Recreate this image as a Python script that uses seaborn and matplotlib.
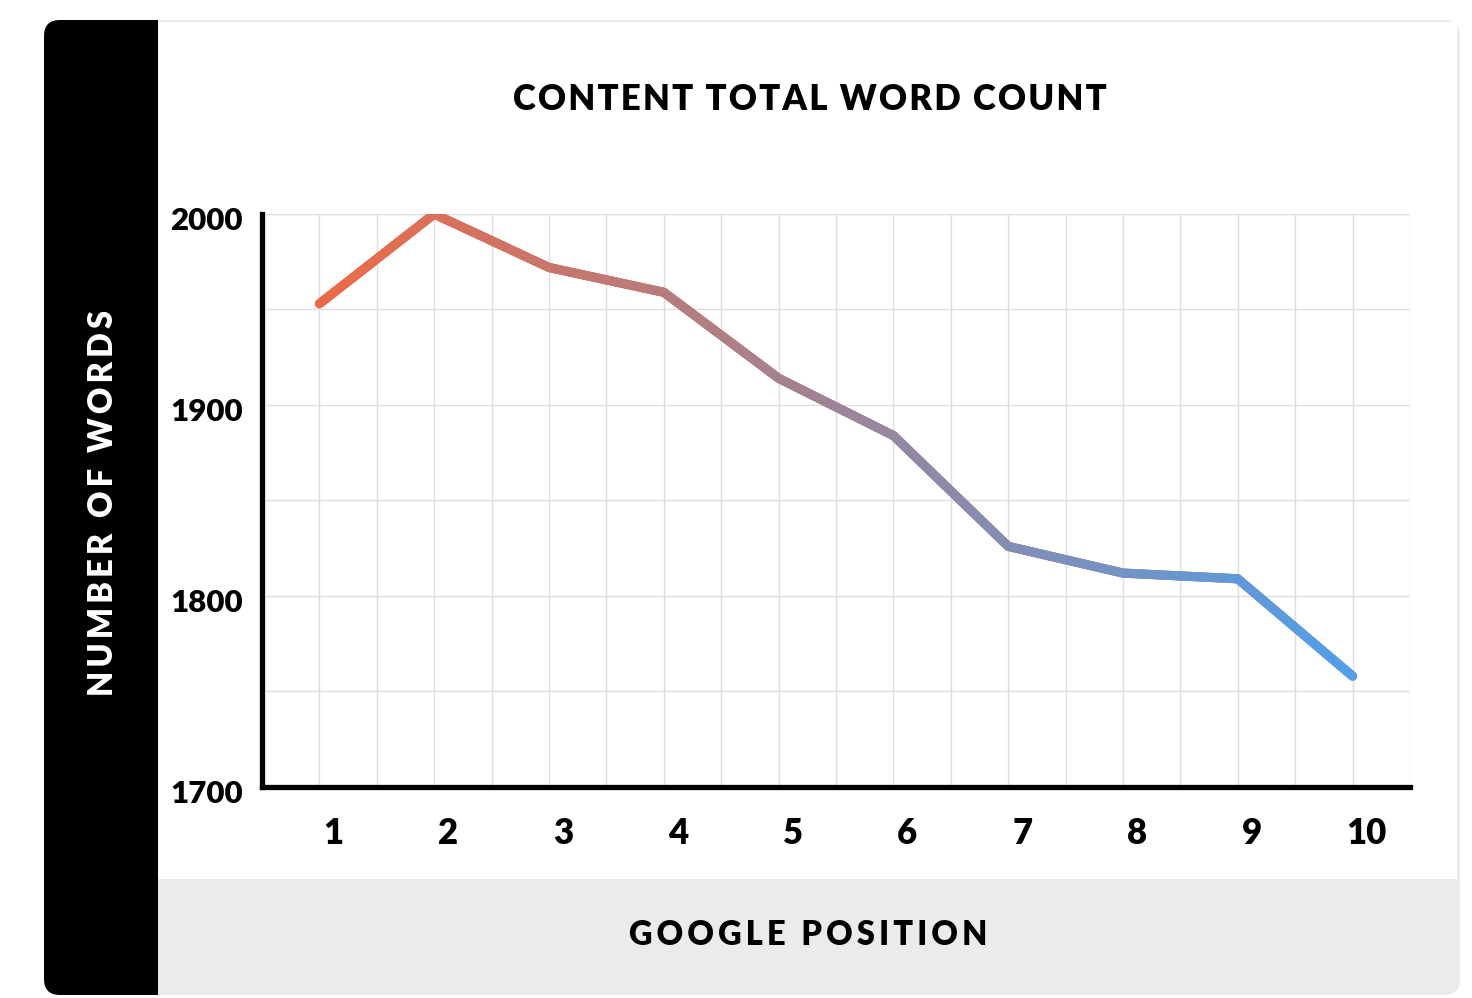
import numpy as np
import pandas as pd
import seaborn as sns
import matplotlib
matplotlib.use("Agg")
import matplotlib.pyplot as plt
from matplotlib.patches import FancyBboxPatch, Rectangle
from matplotlib.collections import LineCollection
from matplotlib.colors import LinearSegmentedColormap
import matplotlib.transforms as mtransforms

# ---- data ----
positions = [1, 2, 3, 4, 5, 6, 7, 8, 9, 10]
words = [1953, 2000, 1972, 1959, 1914, 1884, 1826, 1812, 1809, 1758]
y_ticks = [1700, 1800, 1900, 2000]
x_tick_labels = ["1", "2", "3", "4", "5", "6", "7", "8", "9", "10"]
title_text = "CONTENT TOTAL WORD COUNT"
xlabel_text = "GOOGLE POSITION"
ylabel_text = "NUMBER OF WORDS"

sns.set_theme(style="white")
plt.rcParams["font.family"] = ["Lato", "DejaVu Sans"]

W, H = 1472, 998
fig = plt.figure(figsize=(W / 100, H / 100), dpi=100)
fig.patch.set_facecolor("white")


def px_rect(x0, y0, x1, y1, color, r=0, z=-10):
    w = (x1 - x0) / 100
    h = (y1 - y0) / 100
    x = x0 / 100
    y = (H - y1) / 100
    if r > 0:
        p = FancyBboxPatch((x, y), w, h,
                           boxstyle=f"round,pad=0,rounding_size={r / 100}",
                           transform=fig.dpi_scale_trans, fc=color, ec="none", zorder=z)
    else:
        p = Rectangle((x, y), w, h, transform=fig.dpi_scale_trans,
                      fc=color, ec="none", zorder=z)
    fig.add_artist(p)


# background card
px_rect(44, 20, 1460, 995, "#ebebeb", r=16, z=-10)
px_rect(44, 20, 230, 995, "#000000", r=16, z=-9)
px_rect(158, 22, 1457, 879, "#ffffff", z=-8)
px_rect(158, 879, 1440, 995, "#ebebeb", z=-8)
px_rect(158, 20, 240, 22, "#ebebeb", z=-8)


def spaced(s, sp="\u2009"):
    return sp.join(s)


# axes
ax = fig.add_axes([262 / W, 1 - 787 / H, (1410 - 262) / W, (787 - 214) / H])
ax.patch.set_alpha(0)

df = pd.DataFrame({"position": positions, "words": words})
sns.lineplot(data=df, x="position", y="words", ax=ax, color="#ea6a47",
             linewidth=6.6, solid_capstyle="round", zorder=3)

# gradient overlay following the same line
cmap = LinearSegmentedColormap.from_list("g", ["#ec6a45", "#4f9feb"])
xs = np.array(positions, float)
ys = np.array(words, float)
fine_x = np.concatenate([np.linspace(xs[i], xs[i + 1], 40, endpoint=False)
                         for i in range(len(xs) - 1)] + [[xs[-1]]])
fine_y = np.interp(fine_x, xs, ys)
pts = np.column_stack([fine_x, fine_y])
segs = np.stack([pts[:-1], pts[1:]], axis=1)
mid = (pts[:-1, 0] + pts[1:, 0]) / 2
cols = cmap((mid - xs.min()) / (xs.max() - xs.min()))
lc = LineCollection(segs, colors=cols, linewidths=6.6, capstyle="round",
                    joinstyle="round", zorder=4)
ax.add_collection(lc)

ax.set_xlim(0.5, 10.5)
ax.set_ylim(1700, 2000)
ax.set_xticks(positions)
ax.set_xticklabels(x_tick_labels)
ax.set_xticks(np.arange(0.5, 10.51, 1.0), minor=True)
ax.set_yticks(y_ticks)
ax.set_yticks([1750, 1850, 1950], minor=True)
ax.grid(which="both", color="#dedede", linewidth=1.0, zorder=0)
ax.set_axisbelow(True)
ax.set_xlabel("")
ax.set_ylabel("")

for s in ["top", "right"]:
    ax.spines[s].set_visible(False)
for s in ["left", "bottom"]:
    ax.spines[s].set_color("black")
    ax.spines[s].set_linewidth(3.8)
    ax.spines[s].set_capstyle("projecting")
    ax.spines[s].set_zorder(5)

ax.tick_params(axis="both", which="both", length=0)
ax.tick_params(axis="x", pad=20, labelsize=25)
ax.tick_params(axis="y", pad=14, labelsize=22.5)
for lab in ax.get_xticklabels():
    lab.set_fontweight("heavy")
    lab.set_color("black")
    lab.set_transform(lab.get_transform() +
                      mtransforms.ScaledTranslation(14 / 100, -2 / 100, fig.dpi_scale_trans))
for lab in ax.get_yticklabels():
    lab.set_fontweight("heavy")
    lab.set_color("black")
    lab.set_transform(lab.get_transform() +
                      mtransforms.ScaledTranslation(0, -5 / 100, fig.dpi_scale_trans))

# texts
fig.text(810 / W, 1 - 100 / H, spaced(title_text, "\u200a"), ha="center", va="center",
         fontsize=25, fontweight="heavy", color="black")
fig.text(808 / W, 1 - 935 / H, spaced(xlabel_text), ha="center", va="center",
         fontsize=23.5, fontweight="heavy", color="black")
fig.text(103 / W, 1 - 503 / H, spaced(ylabel_text), ha="center", va="center",
         rotation=90, fontsize=23.5, fontweight="heavy", color="white")

fig.savefig("out.png", dpi=100)
